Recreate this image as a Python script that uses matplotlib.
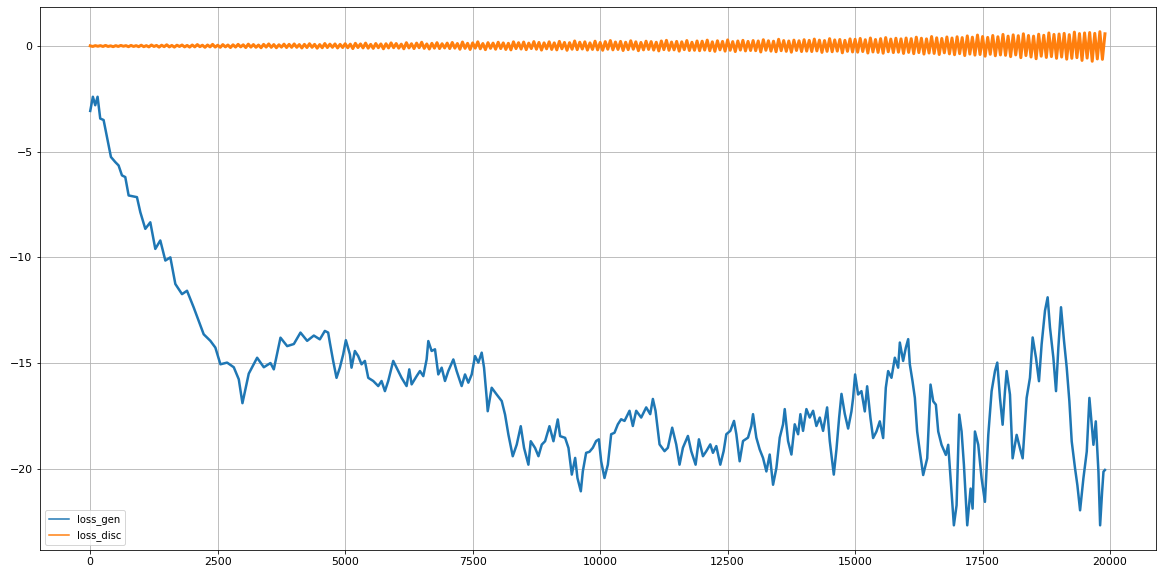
import matplotlib
matplotlib.use("Agg")
import matplotlib.pyplot as plt  # noqa: E402
import numpy as np  # noqa: E402

# loss_gen (step, value)
gen_steps = [
    0, 52, 98, 144, 196, 262, 327, 406, 491, 556, 622, 687, 753, 916, 982,
    1080, 1178, 1276, 1374, 1473, 1571, 1669, 1800, 1898, 2029, 2127, 2225,
    2356, 2454, 2553, 2684, 2815, 2913, 2985, 3109, 3273, 3404, 3535, 3600,
    3731, 3862, 3993, 4123, 4254, 4385, 4503, 4601, 4666, 4699, 4764, 4830,
    4895, 4961, 5013, 5092, 5124, 5190, 5255, 5321, 5386, 5452, 5550, 5648,
    5713, 5779, 5844, 5942, 6008, 6106, 6204, 6257, 6303, 6401, 6466, 6532,
    6597, 6630, 6695, 6761, 6826, 6892, 6957, 7022, 7121, 7186, 7284, 7350,
    7415, 7481, 7546, 7611, 7677, 7723, 7775, 7795, 7873, 7971, 8070, 8135,
    8201, 8286, 8364, 8443, 8508, 8593, 8639, 8724, 8790, 8855, 8920, 9006,
    9084, 9169, 9215, 9313, 9379, 9444, 9510, 9555, 9621, 9660, 9725, 9791,
    9856, 9921, 9974, 10020, 10085, 10151, 10216, 10281, 10347, 10412, 10478,
    10576, 10641, 10707, 10805, 10903, 10982, 11034, 11086, 11165, 11263,
    11328, 11413, 11492, 11557, 11623, 11721, 11786, 11872, 11937, 12016,
    12082, 12160, 12212, 12278, 12356, 12422, 12474, 12553, 12625, 12671,
    12736, 12802, 12900, 12965, 12998, 13063, 13129, 13194, 13260, 13325,
    13391, 13456, 13522, 13587, 13620, 13685, 13751, 13816, 13882, 13927,
    13979, 14045, 14110, 14176, 14241, 14307, 14372, 14451, 14503, 14582,
    14634, 14687, 14733, 14797, 14863, 14928, 14961, 15000, 15059, 15124,
    15190, 15236, 15301, 15353, 15419, 15484, 15550, 15602, 15648, 15713,
    15779, 15844, 15877, 15942, 15995, 16041, 16073, 16126, 16172, 16217,
    16270, 16335, 16414, 16479, 16532, 16584, 16630, 16695, 16780, 16826,
    16891, 16937, 16990, 17042, 17088, 17134, 17199, 17265, 17304, 17350,
    17415, 17481, 17546, 17612, 17677, 17743, 17788, 17841, 17893, 17939,
    17972, 18037, 18089, 18168, 18233, 18286, 18364, 18429, 18482, 18547,
    18606, 18658, 18724, 18776, 18822, 18888, 18940, 18986, 19038, 19097,
    19150, 19202, 19248, 19313, 19359, 19412, 19477, 19543, 19595, 19641,
    19674, 19720, 19772, 19805, 19844, 19871, 19900,
]
gen_loss = [
    -3.07, -2.4, -2.8, -2.4, -3.43, -3.5, -4.3, -5.25, -5.49, -5.65, -6.12,
    -6.2, -7.07, -7.15, -7.86, -8.65, -8.34, -9.6, -9.2, -10.15, -10.0,
    -11.26, -11.74, -11.58, -12.37, -13.0, -13.64, -13.95, -14.27, -15.06,
    -14.98, -15.2, -15.77, -16.9, -15.5, -14.75, -15.2, -15.0, -15.3, -13.8,
    -14.2, -14.1, -13.56, -13.95, -13.7, -13.88, -13.48, -13.56, -14.03,
    -14.9, -15.7, -15.22, -14.59, -13.92, -14.59, -15.22, -14.43, -14.67,
    -15.06, -14.9, -15.7, -15.85, -16.09, -15.85, -16.33, -15.85, -14.9,
    -15.22, -15.7, -16.09, -15.3, -16.01, -15.62, -15.38, -15.62, -14.83,
    -13.96, -14.43, -14.35, -15.54, -15.22, -15.85, -15.38, -14.83, -15.38,
    -16.09, -15.54, -15.93, -15.54, -14.67, -14.98, -14.51, -15.22, -16.65,
    -17.28, -16.17, -16.49, -16.8, -17.44, -18.39, -19.41, -18.86, -17.99,
    -19.02, -19.81, -18.7, -19.02, -19.41, -18.86, -18.7, -17.99, -18.7,
    -17.67, -18.46, -18.54, -19.02, -20.28, -19.49, -20.44, -21.07, -20.13,
    -19.25, -19.2, -19.01, -18.69, -18.61, -19.65, -20.44, -19.81, -18.37,
    -18.3, -17.9, -17.66, -17.74, -17.26, -17.98, -17.26, -17.58, -17.1,
    -17.42, -16.7, -17.26, -18.85, -19.17, -19.01, -18.06, -18.85, -19.81,
    -19.01, -18.45, -19.17, -19.81, -18.61, -19.41, -19.17, -18.85, -19.25,
    -18.93, -19.81, -19.17, -18.37, -18.21, -17.74, -18.37, -19.65, -18.69,
    -18.53, -17.98, -17.42, -18.53, -19.09, -19.49, -20.13, -19.33, -20.76,
    -19.97, -18.53, -17.9, -17.18, -18.69, -19.33, -17.9, -18.37, -17.42,
    -18.21, -17.18, -17.58, -17.26, -17.98, -17.58, -18.21, -17.1, -18.69,
    -20.28, -19.09, -17.58, -16.46, -17.4, -18.1, -17.29, -16.65, -15.54,
    -16.49, -16.33, -17.29, -16.1, -17.6, -18.55, -18.24, -17.76, -18.55,
    -16.17, -15.38, -15.7, -14.75, -15.22, -14.03, -14.9, -14.27, -13.87,
    -15.06, -15.86, -16.65, -18.24, -19.19, -20.3, -19.51, -16.02, -16.81,
    -16.97, -18.24, -18.87, -19.35, -18.87, -21.09, -22.68, -21.73, -17.44,
    -18.24, -19.82, -22.68, -20.94, -21.89, -18.24, -18.87, -20.46, -21.57,
    -18.4, -16.33, -15.38, -14.98, -16.65, -17.92, -16.33, -15.38, -16.49,
    -19.51, -18.4, -19.03, -19.51, -16.65, -15.7, -13.79, -14.75, -15.86,
    -14.11, -12.52, -11.89, -13.32, -14.75, -16.33, -14.27, -12.36, -13.95,
    -15.22, -16.81, -18.71, -19.98, -20.78, -21.97, -20.46, -19.19, -16.65,
    -17.92, -18.87, -17.76, -20.14, -22.68, -21.09, -20.14, -20.06,
]

# loss_disc, one value every 50 steps (rows of 1000 steps)
disc_step = 50
disc_loss = [
    0.01, -0.02, 0.02, -0.01, 0.02, -0.02, 0.03, -0.02, 0.01, -0.03, 0.02, -0.02, 0.03, -0.01, 0.02, -0.03, 0.03, -0.02, 0.02, -0.03,
    0.04, -0.03, 0.02, -0.04, 0.05, -0.02, 0.03, -0.05, 0.04, -0.03, 0.06, -0.04, 0.03, -0.05, 0.04, -0.02, 0.05, -0.04, 0.03, -0.05,
    0.05, -0.04, 0.07, -0.03, 0.04, -0.06, 0.05, -0.04, 0.08, -0.05, 0.04, -0.06, 0.07, -0.04, 0.05, -0.07, 0.06, -0.05, 0.08, -0.04,
    0.06, -0.07, 0.09, -0.05, 0.07, -0.06, 0.05, -0.08, 0.08, -0.05, 0.10, -0.06, 0.07, -0.08, 0.06, -0.05, 0.09, -0.07, 0.08, -0.06,
    0.10, -0.06, 0.07, -0.09, 0.08, -0.07, 0.11, -0.06, 0.08, -0.10, 0.07, -0.08, 0.12, -0.07, 0.09, -0.06, 0.10, -0.09, 0.08, -0.07,
    0.11, -0.08, 0.09, -0.12, 0.13, -0.07, 0.10, -0.09, 0.14, -0.10, 0.08, -0.11, 0.12, -0.08, 0.10, -0.13, 0.11, -0.09, 0.15, -0.08,
    0.12, -0.10, 0.09, -0.13, 0.16, -0.09, 0.11, -0.12, 0.14, -0.08, 0.18, -0.11, 0.10, -0.14, 0.13, -0.10, 0.16, -0.12, 0.11, -0.09,
    0.14, -0.12, 0.17, -0.10, 0.12, -0.15, 0.19, -0.11, 0.13, -0.16, 0.15, -0.10, 0.20, -0.13, 0.12, -0.17, 0.16, -0.11, 0.14, -0.15,
    0.18, -0.12, 0.15, -0.16, 0.13, -0.18, 0.20, -0.12, 0.16, -0.14, 0.19, -0.17, 0.14, -0.12, 0.21, -0.15, 0.17, -0.19, 0.15, -0.13,
    0.20, -0.16, 0.15, -0.18, 0.22, -0.13, 0.17, -0.20, 0.16, -0.15, 0.24, -0.17, 0.18, -0.14, 0.20, -0.19, 0.15, -0.16, 0.23, -0.18,
    0.17, -0.20, 0.21, -0.15, 0.26, -0.18, 0.19, -0.16, 0.22, -0.21, 0.18, -0.17, 0.25, -0.15, 0.20, -0.22, 0.17, -0.18, 0.23, -0.16,
    0.21, -0.19, 0.18, -0.23, 0.24, -0.17, 0.27, -0.20, 0.19, -0.18, 0.22, -0.24, 0.20, -0.17, 0.26, -0.21, 0.18, -0.20, 0.24, -0.22,
    0.23, -0.19, 0.28, -0.22, 0.20, -0.25, 0.25, -0.18, 0.22, -0.24, 0.29, -0.20, 0.21, -0.26, 0.24, -0.19, 0.27, -0.23, 0.22, -0.21,
    0.26, -0.22, 0.24, -0.28, 0.30, -0.20, 0.25, -0.24, 0.23, -0.27, 0.32, -0.22, 0.26, -0.25, 0.24, -0.29, 0.28, -0.21, 0.25, -0.26,
    0.30, -0.24, 0.27, -0.26, 0.33, -0.23, 0.28, -0.30, 0.26, -0.25, 0.35, -0.27, 0.29, -0.24, 0.31, -0.32, 0.27, -0.25, 0.34, -0.28,
    0.32, -0.29, 0.36, -0.26, 0.30, -0.33, 0.38, -0.28, 0.31, -0.30, 0.35, -0.34, 0.40, -0.27, 0.33, -0.31, 0.37, -0.29, 0.34, -0.35,
    0.38, -0.30, 0.35, -0.36, 0.42, -0.31, 0.37, -0.38, 0.34, -0.33, 0.45, -0.35, 0.39, -0.40, 0.36, -0.32, 0.43, -0.37, 0.38, -0.41,
    0.44, -0.36, 0.40, -0.45, 0.48, -0.38, 0.42, -0.43, 0.52, -0.40, 0.45, -0.48, 0.41, -0.39, 0.50, -0.46, 0.44, -0.42, 0.55, -0.44,
    0.47, -0.50, 0.53, -0.42, 0.49, -0.55, 0.58, -0.45, 0.50, -0.52, 0.47, -0.60, 0.56, -0.48, 0.51, -0.54, 0.62, -0.50, 0.55, -0.58,
    0.57, -0.52, 0.60, -0.62, 0.54, -0.58, 0.66, -0.55, 0.59, -0.68, 0.62, -0.57, 0.64, -0.72, 0.60, -0.61, 0.68, -0.63, 0.58,
]
disc_steps = np.arange(len(disc_loss)) * disc_step

DPI = 72
fig = plt.figure(figsize=(1162 / DPI, 578 / DPI), dpi=DPI)
ax = fig.add_axes([39.5 / 1162, 28 / 578, 1116.2 / 1162, 543 / 578])

ax.plot(gen_steps, gen_loss, color="#1f77b4", linewidth=2.5, label="loss_gen")
ax.plot(disc_steps, disc_loss, color="#ff7f0e", linewidth=3.0, label="loss_disc")

ax.grid(True, color="#b0b0b0", linewidth=0.8)
ax.tick_params(labelsize=11)
leg = ax.legend(loc="lower left", fontsize=10)
for line in leg.get_lines():
    line.set_linewidth(1.5)

fig.savefig("out.png", dpi=DPI)
